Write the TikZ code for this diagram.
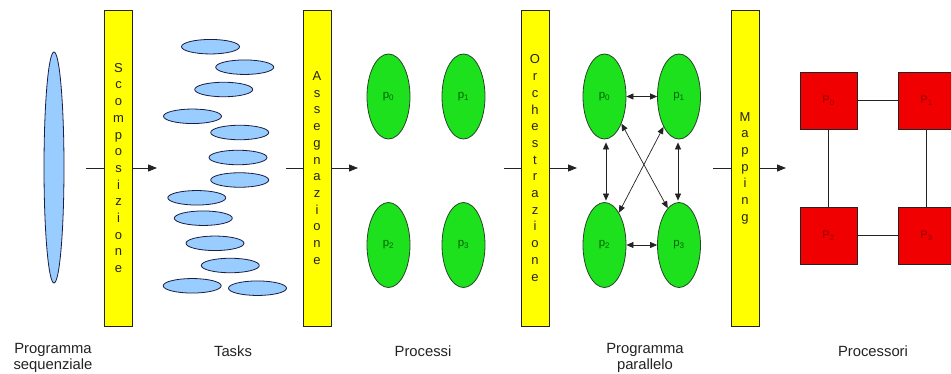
\documentclass[tikz,border=0pt]{standalone}
\usepackage{fontspec}
\setmainfont{Liberation Sans}
\usetikzlibrary{shapes.geometric,arrows.meta}

\definecolor{barfill}{RGB}{255,255,0}
\definecolor{taskfill}{RGB}{153,204,255}
\definecolor{taskline}{RGB}{25,30,70}
\definecolor{procfill}{RGB}{30,225,30}
\definecolor{procline}{RGB}{40,70,40}
\definecolor{proctext}{RGB}{0,100,0}
\definecolor{cpufill}{RGB}{240,0,0}
\definecolor{cputext}{RGB}{150,0,0}
\definecolor{ink}{RGB}{35,35,35}

\tikzset{
  bar/.style={draw=ink, line width=0.8pt, fill=barfill, minimum width=28pt,
    minimum height=316pt, inner sep=0pt, align=center, text=ink,
    font=\fontsize{13}{16.7}\selectfont},
  task/.style={ellipse, draw=taskline, line width=0.8pt, fill=taskfill, inner sep=0pt},
  small task/.style={task, minimum width=58pt, minimum height=14.5pt},
  proc/.style={ellipse, draw=procline, line width=0.8pt, fill=procfill, inner sep=0pt,
    minimum width=43pt, minimum height=85pt, text=proctext,
    font=\fontsize{11.5}{11.5}\selectfont},
  cpu/.style={draw=ink, line width=0.8pt, fill=cpufill, minimum width=57pt,
    minimum height=57pt, inner sep=0pt, text=cputext, font=\fontsize{11}{11}\selectfont},
  flow/.style={draw=ink, line width=0.8pt, -{Triangle[length=9pt,width=7pt]}},
  link/.style={draw=ink, line width=0.7pt},
  comm/.style={draw=ink, line width=0.7pt,
    {Triangle[length=7pt,width=6pt]}-{Triangle[length=7pt,width=6pt]}},
  caption/.style={text=ink, align=center, font=\fontsize{14.8}{16}\selectfont}
}

\begin{document}
\begin{tikzpicture}[x=1pt, y=-1pt]
\useasboundingbox (0,0) rectangle (951,374);
\clip (0,0) rectangle (951,374);
\fill[white] (0,0) rectangle (951,374);

% flow arrows across the four phases (drawn first, the bars lie over them)
\coordinate (s1) at (86,168);  \coordinate (t1) at (157,168);
\coordinate (s2) at (286,168); \coordinate (t2) at (358,168);
\coordinate (s3) at (504,168); \coordinate (t3) at (577,168);
\coordinate (s4) at (713,168); \coordinate (t4) at (786,168);
\draw[flow] (s1) -- (t1);
\draw[flow] (s2) -- (t2);
\draw[flow] (s3) -- (t3);
\draw[flow] (s4) -- (t4);

% phase bars
\node[bar] (scomp) at (118.5,168) {S\\c\\o\\m\\p\\o\\s\\i\\z\\i\\o\\n\\e};
\node[bar] (asseg) at (317,168) {A\\s\\s\\e\\g\\n\\a\\z\\i\\o\\n\\e};
\node[bar] (orch)  at (535,168) {O\\r\\c\\h\\e\\s\\t\\r\\a\\z\\i\\o\\n\\e};
\node[bar] (mapp)  at (745,168) {M\\a\\p\\p\\i\\n\\g};

% sequential program
\node[task, minimum width=20pt, minimum height=231pt] (seq) at (54,167.5) {};

% tasks
\node[small task] (k1)  at (210.5,46.7) {};
\node[small task] (k2)  at (244.7,67.2) {};
\node[small task] (k3)  at (223.7,89.5) {};
\node[small task] (k4)  at (192.5,116.3) {};
\node[small task] (k5)  at (239.7,132.5) {};
\node[small task] (k6)  at (238,157.5) {};
\node[small task] (k7)  at (239.7,180) {};
\node[small task] (k8)  at (196.8,197.8) {};
\node[small task] (k9)  at (203.3,218.2) {};
\node[small task] (k10) at (215,243.3) {};
\node[small task] (k11) at (230.3,265.5) {};
\node[small task] (k12) at (192.2,285.8) {};
\node[small task] (k13) at (257.5,288.2) {};

% processes
\node[proc] (a0) at (388.5,96.5) {p\textsubscript{0}};
\node[proc] (a1) at (463.5,96.5) {p\textsubscript{1}};
\node[proc] (a2) at (388.5,245)  {p\textsubscript{2}};
\node[proc] (a3) at (463.5,245)  {p\textsubscript{3}};

% parallel program
\node[proc] (b0) at (604.5,96.5) {p\textsubscript{0}};
\node[proc] (b1) at (679,96.5)   {p\textsubscript{1}};
\node[proc] (b2) at (604.5,245)  {p\textsubscript{2}};
\node[proc] (b3) at (679,245)    {p\textsubscript{3}};
\draw[comm] (b0) -- (b1);
\draw[comm] (b2) -- (b3);
\draw[comm, shorten <=3pt, shorten >=1.5pt] ([xshift=1.5pt]b0.south) -- ([xshift=1.5pt]b2.north);
\draw[comm, shorten <=3pt, shorten >=1.5pt] ([xshift=-1pt]b1.south) -- ([xshift=-1pt]b3.north);
\draw[comm] (b0.-58) -- (b3.107);
\draw[comm] (b1.-117) -- (b2.66);

% processors
\node[cpu] (c0) at (828.5,100.5) {P\textsubscript{0}};
\node[cpu] (c1) at (926.5,100.5) {P\textsubscript{1}};
\node[cpu] (c2) at (828.5,235.5) {P\textsubscript{2}};
\node[cpu] (c3) at (926.5,235.5) {P\textsubscript{3}};
\draw[link] (c0) -- (c1);
\draw[link] (c2) -- (c3);
\draw[link] (c0) -- (c2);
\draw[link] (c1) -- (c3);

% captions
\node[caption] (cap1) at (53,358)  {Programma\\sequenziale};
\node[caption] (cap2) at (233,351) {Tasks};
\node[caption] (cap3) at (423,351) {Processi};
\node[caption] (cap4) at (645,358) {Programma\\parallelo};
\node[caption] (cap5) at (873,351) {Processori};
\end{tikzpicture}
\end{document}
